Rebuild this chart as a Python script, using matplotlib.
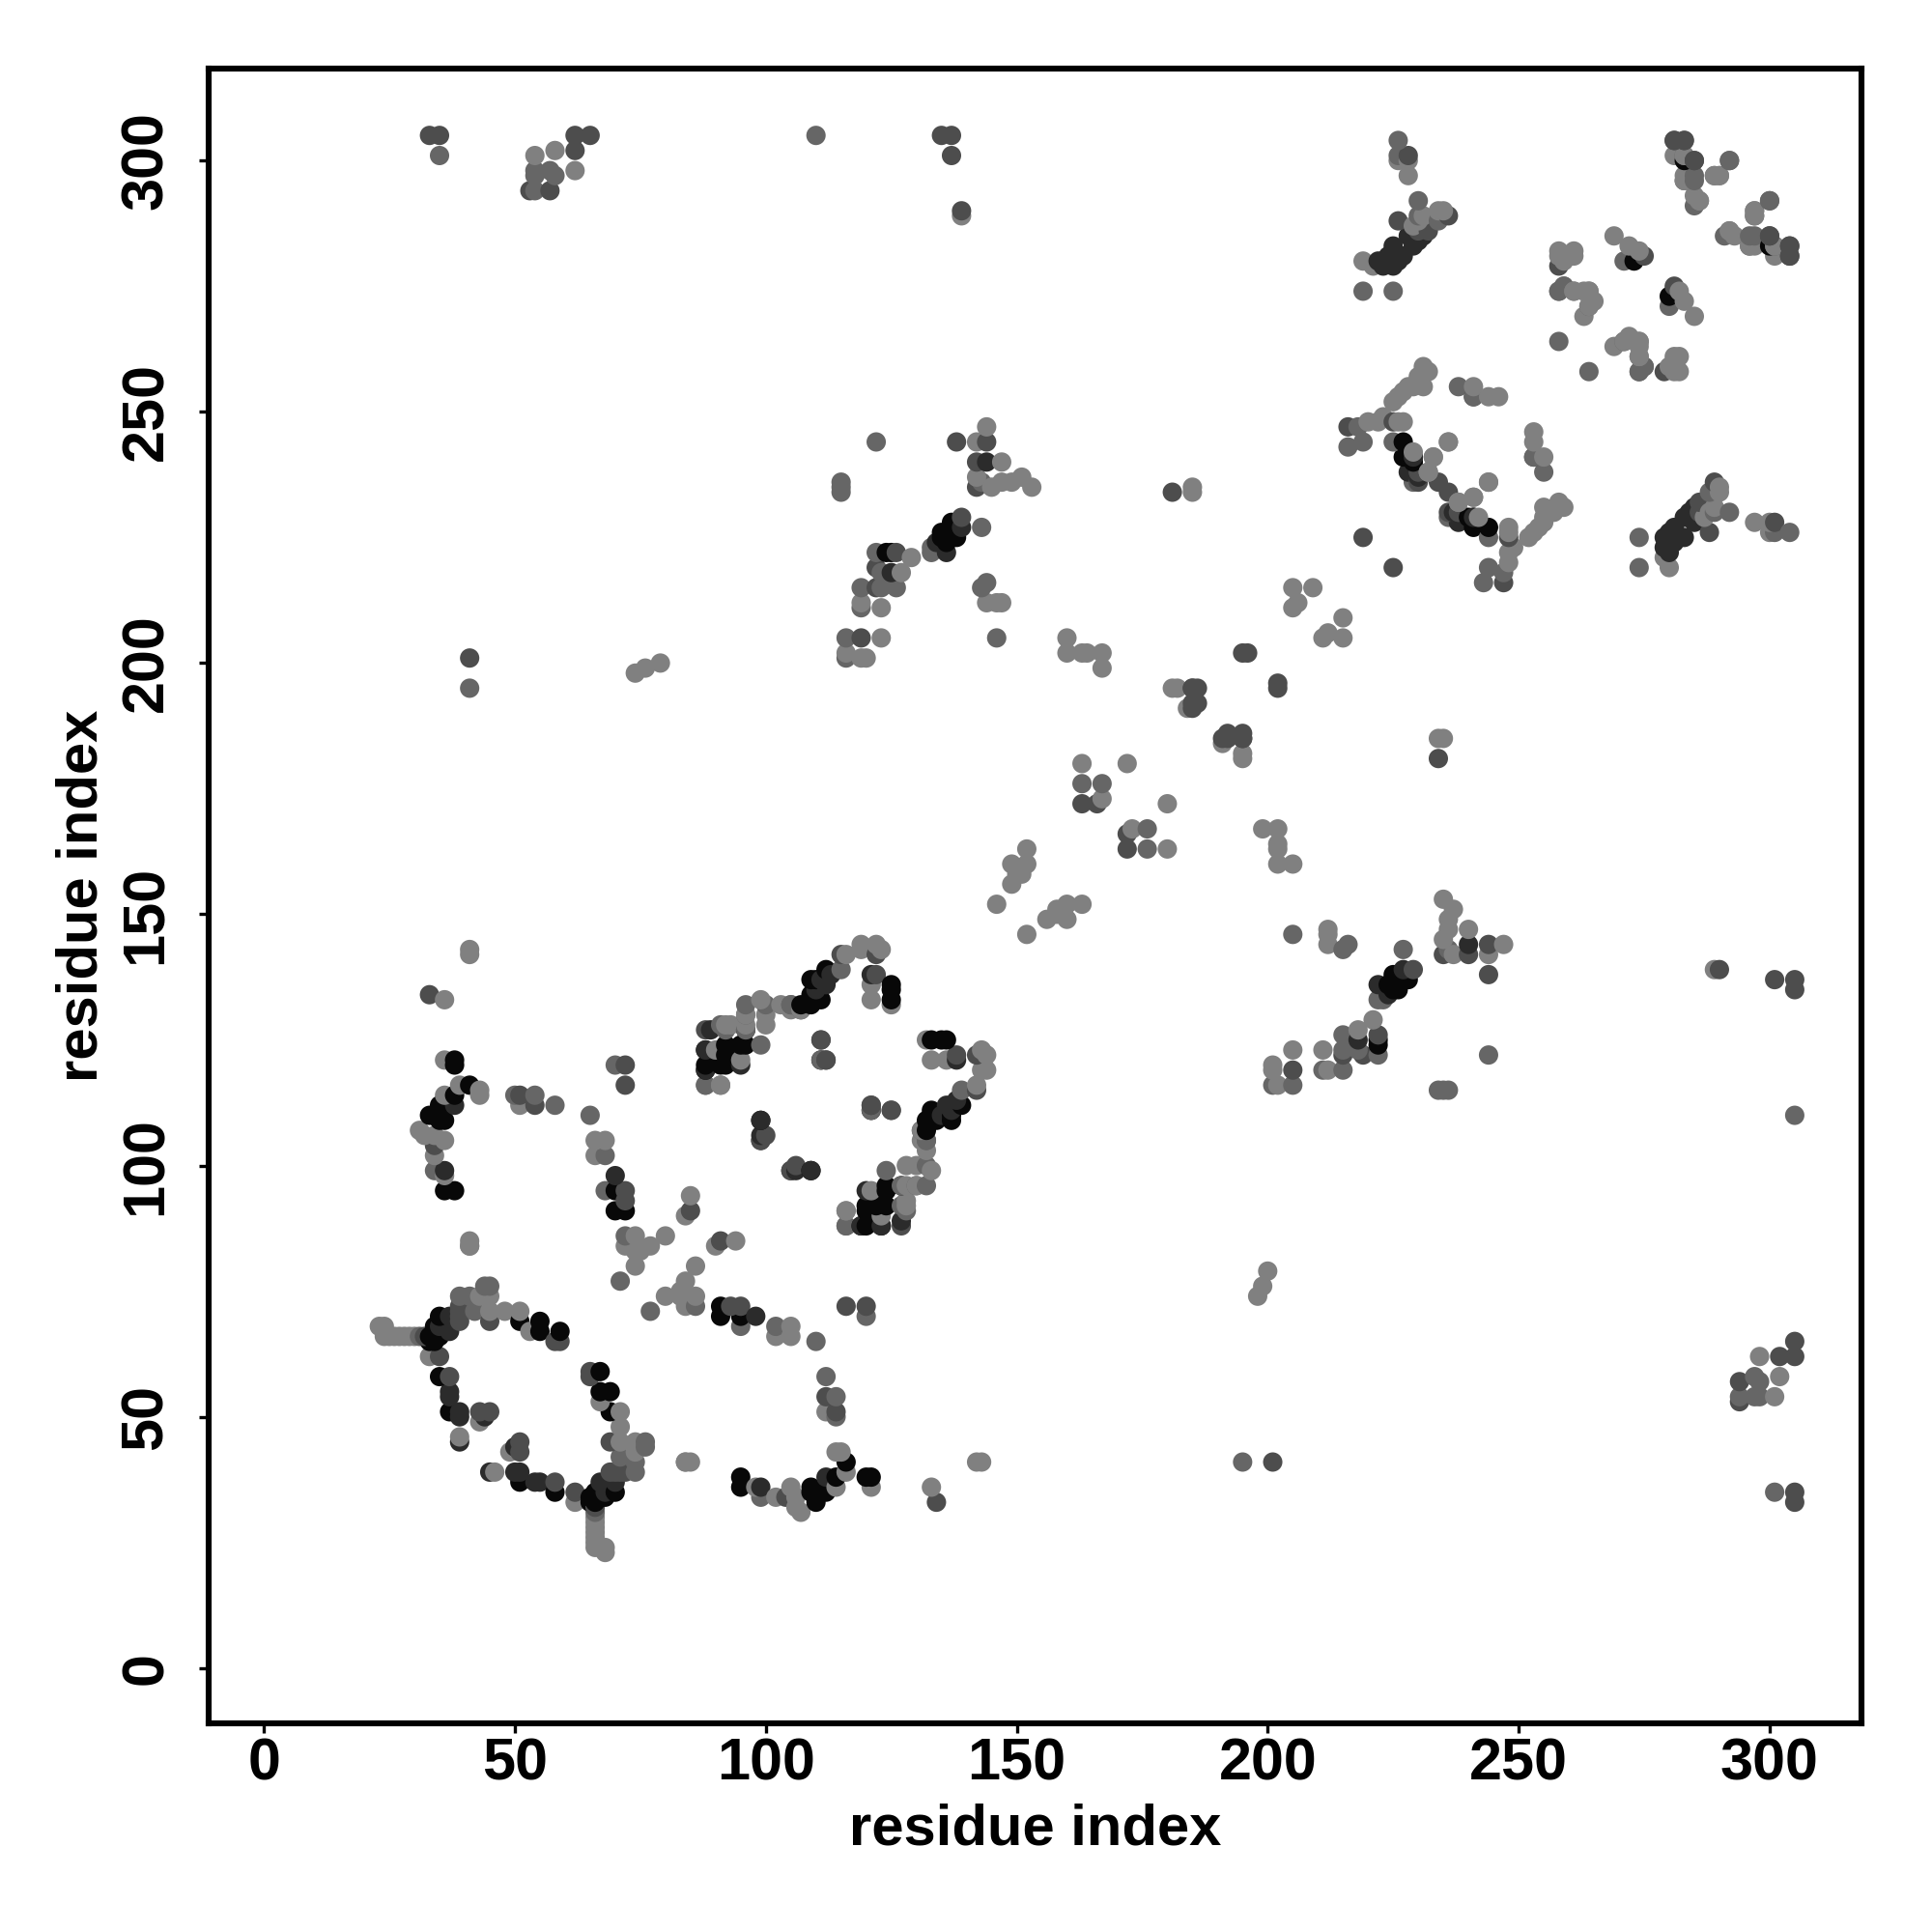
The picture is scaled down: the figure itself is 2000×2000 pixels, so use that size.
import matplotlib
matplotlib.use("Agg")
import matplotlib.pyplot as plt

plt.rcParams["font.family"] = ["Liberation Sans", "DejaVu Sans"]
plt.rcParams["font.weight"] = "bold"

black = [(33,65),(33,66),(34,65),(34,68),(35,70),(35,58),(37,51),(55,67),(55,69),(51,69),(59,67),(35,66),
    (38,120),(38,121),(41,116),(38,114),(35,112),(33,110),(36,109),(35,109),(36,95),(38,95),(70,95),(72,91),
    (88,123),(88,120),(92,124),(92,120),(95,124),(96,127),(109,132),(111,133),(109,137),(110,137),(112,139),
    (111,121),(125,136),(125,133),(109,134),(107,132),(99,109),(96,124),(92,122),
    (273,280),(283,300),(229,240),(227,241),(229,241),(227,244),(70,91),(91,120),(88,119),(125,135),
    (137,228),(124,222),(125,222),(135,226),(138,225),(136,224),(138,227),(135,225),(137,226)]
dark = [(37,55),(37,54),(39,51),(39,50),(36,99),(38,112),(70,98),(39,45),(44,50),(35,68),(37,67),(37,70),
    (89,127),(113,138),(112,136),(121,138),(110,135),(111,137),(99,106),(99,105),(109,99),(119,88),
    (123,88),(120,95),(222,280),(224,281),(225,279),(225,283),(227,281),(228,285),(229,283),(231,285),
    (228,238),(237,230),(241,229),(223,279),(226,280),(230,284),(224,280),
    (139,227),(136,222),(125,218),(134,224),(144,240)]
slate = [(32,66),(35,62),(37,58),(39,69),(39,71),(39,72),(45,69),(59,65),(58,65),(43,51),(45,51),(39,70),
    (33,134),(34,104),(51,114),(54,112),(72,120),(72,116),(72,93),(72,95),(85,91),(88,127),
    (115,142),(122,142),(125,111),(112,121),(100,106),(121,112),(122,138),(111,125),(105,99),(226,288),(230,286),
    (232,286),(281,304),(283,304),(285,300),(300,285),(304,283),(304,281),(216,247),(225,248),(219,225),(234,236),
    (181,234),(195,202),(196,202),(185,195),(185,192),(191,185),(192,186),(186,195),(195,185),(163,172),(166,172),
    (230,236),(241,253),(230,238),(236,289),(228,301),(275,281),(279,258),(139,290),(137,301),(135,305),(137,305),
    (33,305),(35,305),(53,294),(57,294),(62,305),(65,305),(62,302),(41,201),
    (139,229),(126,222),(122,219),(122,215),(119,205),(138,244),(144,244),(142,240),(142,235)]
mid = [(31,66),(39,74),(41,74),(44,76),(45,76),(42,71),(50,114),(54,114),(58,112),(65,110),(68,102),(68,95),
    (71,77),(70,120),(72,86),(88,116),(96,132),(100,132),(105,132),(91,128),(99,124),(96,130),(121,111),
    (115,139),(131,107),(132,105),(127,96),(127,92),(116,88),(34,99),(230,289),(230,292),(226,304),(234,288),
    (219,244),(216,243),(218,247),(229,236),(225,244),(238,255),(241,253),(219,274),(225,274),(285,291),(283,301),
    (292,300),(300,292),(297,289),(258,264),(258,274),(259,275),(264,271),(271,280),(275,259),(274,258),
    (163,176),(167,176),(226,301),(283,296),(285,297),(296,285),
    (122,244),(115,235),(115,234),(54,298),(57,298),(58,297),(54,297),(54,294),(110,305),(35,301),
    (143,227),(41,195),(122,222),(123,218),(119,215),(123,215),(126,215),(119,211),(116,205),(116,201),(144,216),
    (143,215),(143,236),(134,223),(133,223),(133,222),(115,236),(146,205)]
light = [(23,68),(24,68),(24,66),(25,66),(26,66),(27,66),(28,66),(29,66),(30,66),(33,62),(43,74),(45,74),(45,71),
    (48,71),(51,71),(53,67),(43,49),(39,46),(41,84),(41,85),(36,133),(36,121),(39,116),(43,115),(43,114),(36,114),
    (31,107),(32,106),(34,106),(36,105),(34,102),(36,98),(51,112),(66,105),(68,105),(66,102),(72,84),(74,83),(75,83),
    (77,84),(74,80),(74,86),(80,86),(85,94),(84,90),(91,116),(90,123),(92,128),(96,130),(100,128),(100,130),
    (103,132),(107,131),(116,142),(119,144),(122,144),(121,133),(121,136),(125,132),(99,133),
    (96,128),(95,121),(116,91),(93,128),(105,131),(41,142),(41,143),(84,41),
    (223,249),(220,248),(222,248),(226,248),(225,252),(226,253),(228,255),(230,257),(231,259),(232,258),(241,255),
    (244,253),(246,253),(229,242),(232,238),(233,241),(236,244),(238,232),(241,233),(244,236),(227,248),(227,254),
    (229,255),(231,255),(230,288),(234,290),(235,290),(228,300),(228,297),(219,280),(221,279),
    (281,301),(283,297),(285,293),(286,292),(289,297),(290,297),(297,290),(292,286),(296,283),(301,283),(258,282),
    (261,282),(259,280),(269,285),(272,283),(274,282),(261,274),(264,274),(265,272),(263,269),(271,264),(274,264),
    (274,261),(263,274),(160,205),(160,202),(163,202),(164,202),(167,202),(167,199),(181,195),(182,195),
    (184,191),(185,234),(185,235),(205,215),(209,215),(205,211),(206,212),(163,180),(172,180),(167,173),
    (152,163),(152,160),(149,160),(150,158),(149,156),(146,152),(151,158),(74,198),(76,199),(79,200),
    (54,301),(58,302),(62,298),(139,289),(129,221),(127,218),(119,212),(123,211),(123,205),(116,202),(119,201),
    (120,201),(144,212),(146,212),(147,212),(147,240),(142,244),(147,236),(149,236),(151,237),(153,235),(145,235),
    (142,237),(144,247),(229,287),(231,289),(258,281),(261,281),(119,143),(123,143),(226,300)]

shades = [0.03, 0.17, 0.3, 0.4, 0.5]
groups = [black, dark, slate, mid, light]

# mirror every contact, then draw from low to high so shades overlap in a mix
points = []
for pairs, g in zip(groups, shades):
    for a, b in pairs:
        points.append((a, b, g))
        points.append((b, a, g))
points.sort(key=lambda p: p[0] + p[1])

fig, ax = plt.subplots(figsize=(10, 10), dpi=200)
fig.subplots_adjust(left=0.108, right=0.9635, top=0.9645, bottom=0.108)

ax.scatter([p[0] for p in points], [p[1] for p in points], s=52,
           c=[str(p[2]) for p in points], linewidths=0, zorder=3)

ax.set_xlim(-11, 318.3)
ax.set_ylim(-11, 318.3)
ax.set_xticks([0, 50, 100, 150, 200, 250, 300])
ax.set_yticks([0, 50, 100, 150, 200, 250, 300])
ax.tick_params(length=3.6, width=1.2, labelsize=22)
ax.tick_params(axis="x", pad=1.5)
ax.tick_params(axis="y", pad=9)
for lab in ax.get_yticklabels():
    lab.set_rotation(90)
    lab.set_va("center")
for sp in ax.spines.values():
    sp.set_linewidth(2.2)
ax.set_xlabel("residue index", fontsize=21.5, fontweight="bold", labelpad=4)
ax.set_ylabel("residue index", fontsize=21.5, fontweight="bold", labelpad=4)

fig.savefig("out.png", dpi=200)
